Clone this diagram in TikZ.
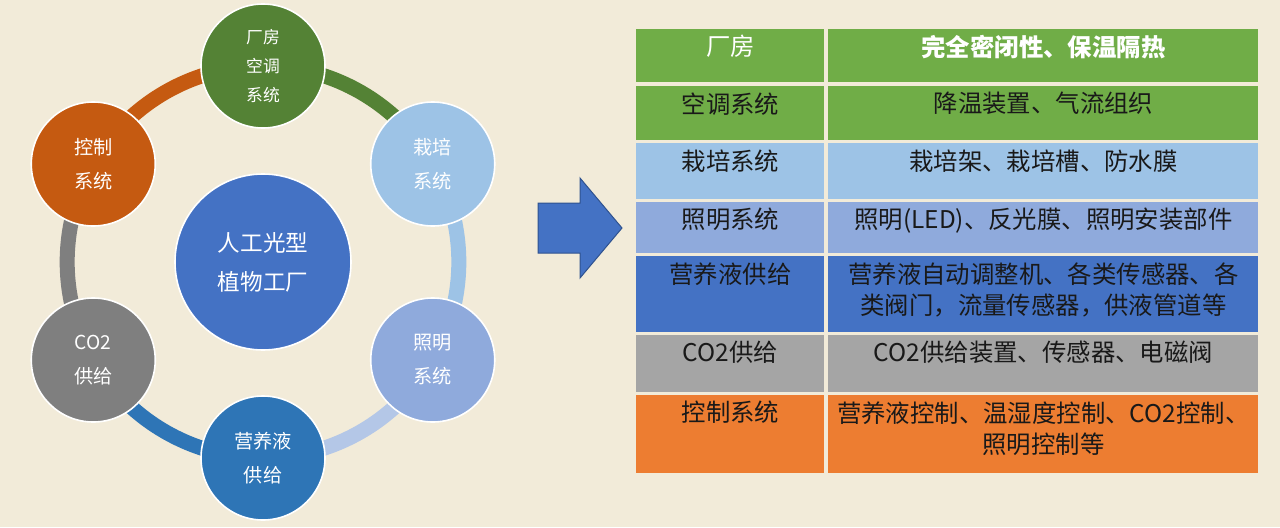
\documentclass[tikz,border=0pt]{standalone}
\usepackage{fontspec}
\usepackage{tikz}
\usetikzlibrary{positioning}
\newfontfamily\cjk{Noto Sans CJK SC}

\begin{document}
\begin{tikzpicture}[x=0.5pt, y=0.5pt,
  sfera/.style={circle, draw=white, line width=0.8pt, inner sep=0pt,
    minimum size=62pt, text=white, align=center,
    font=\cjk\fontsize{9.6}{17}\selectfont},
  anello/.style={line width=7.5pt, bend left=30, looseness=0.91},
  cella/.style={anchor=north west, inner sep=0pt},
  testo/.style={inner sep=0pt, align=center, text=black!90,
    font=\cjk\fontsize{12.2}{15.5}\selectfont}]

% Colori
\definecolor{colSfondo}{HTML}{F2EBD9}
\definecolor{colCentro}{HTML}{4472C4}
\definecolor{colVerde}{HTML}{548235}
\definecolor{colCeleste}{HTML}{9DC3E6}
\definecolor{colLuce}{HTML}{8FAADC}
\definecolor{colLuceChiaro}{HTML}{B4C7E7}
\definecolor{colNutri}{HTML}{2E75B6}
\definecolor{colGrigio}{HTML}{7F7F7F}
\definecolor{colArancio}{HTML}{C55A11}
\definecolor{colVerdeT}{HTML}{70AD47}
\definecolor{colGrigioT}{HTML}{A5A5A5}
\definecolor{colArancioT}{HTML}{ED7D31}
\definecolor{colBordo}{HTML}{2F528F}

% Sfondo
\useasboundingbox (0,0) rectangle (1280,527);
\fill[colSfondo] (0,0) rectangle (1280,527);

% Raggio dell'anello
\def\ranello{196}

% Cerchio centrale
\node[sfera, fill=colCentro, minimum size=88pt,
  font=\cjk\fontsize{11.3}{19.5}\selectfont] (mid) at (263,265) {人工光型\\植物工厂};

% Posizioni dei cerchi esterni
\coordinate (pA) at ([shift={(90:\ranello)}]mid);
\coordinate (pB) at ([shift={(30:\ranello)}]mid);
\coordinate (pC) at ([shift={(-30:\ranello)}]mid);
\coordinate (pD) at ([shift={(-90:\ranello)}]mid);
\coordinate (pE) at ([shift={(-150:\ranello)}]mid);
\coordinate (pF) at ([shift={(150:\ranello)}]mid);

% Anello
\draw[anello, colVerde] (pA) to (pB);
\draw[anello, colCeleste] (pB) to (pC);
\draw[anello, colLuceChiaro] (pC) to (pD);
\draw[anello, colNutri] (pD) to (pE);
\draw[anello, colGrigio] (pE) to (pF);
\draw[anello, colArancio] (pF) to (pA);

% Cerchi esterni
\node[sfera, fill=colVerde, font=\cjk\fontsize{8.4}{14.5}\selectfont] (fab) at (pA) {厂房\\空调\\系统};
\node[sfera, fill=colCeleste] (colt) at (pB) {栽培\\系统};
\node[sfera, fill=colLuce] (illu) at (pC) {照明\\系统};
\node[sfera, fill=colNutri] (nutr) at (pD) {营养液\\供给};
\node[sfera, fill=colGrigio] (coo) at (pE) {CO2\\供给};
\node[sfera, fill=colArancio] (ctrl) at (pF) {控制\\系统};

% Freccia
\fill[colCentro, draw=colBordo, line width=0.5pt]
(538,324) -- (580,324) -- (580,349) -- (622,299) -- (580,249) -- (580,274) -- (538,274) -- cycle;

% Tabella - celle
\node[cella, fill=colVerdeT, minimum width=94pt, minimum height=26.5pt] (c1a) at (636,498) {};
\node[cella, fill=colVerdeT, minimum width=215pt, minimum height=26.5pt] (c1b) at (828,498) {};
\node[cella, fill=colVerdeT, minimum width=94pt, minimum height=27pt] (c2a) at (636,441) {};
\node[cella, fill=colVerdeT, minimum width=215pt, minimum height=27pt] (c2b) at (828,441) {};
\node[cella, fill=colCeleste, minimum width=94pt, minimum height=28pt] (c3a) at (636,384) {};
\node[cella, fill=colCeleste, minimum width=215pt, minimum height=28pt] (c3b) at (828,384) {};
\node[cella, fill=colLuce, minimum width=94pt, minimum height=25.5pt] (c4a) at (636,325) {};
\node[cella, fill=colLuce, minimum width=215pt, minimum height=25.5pt] (c4b) at (828,325) {};
\node[cella, fill=colCentro, minimum width=94pt, minimum height=38pt] (c5a) at (636,271) {};
\node[cella, fill=colCentro, minimum width=215pt, minimum height=38pt] (c5b) at (828,271) {};
\node[cella, fill=colGrigioT, minimum width=94pt, minimum height=28.5pt] (c6a) at (636,192) {};
\node[cella, fill=colGrigioT, minimum width=215pt, minimum height=28.5pt] (c6b) at (828,192) {};
\node[cella, fill=colArancioT, minimum width=94pt, minimum height=39pt] (c7a) at (636,132) {};
\node[cella, fill=colArancioT, minimum width=215pt, minimum height=39pt] (c7b) at (828,132) {};

% Tabella - testi
\node[testo, text=white, below=3pt of c1a.north] (t1a) {厂房};
\node[testo, text=white, font=\cjk\bfseries\fontsize{12.2}{15.5}\selectfont,
  below=3pt of c1b.north] (t1b) {完全密闭性、保温隔热};
\node[testo, below=3pt of c2a.north] (t2a) {空调系统};
\node[testo, below=3pt of c2b.north] (t2b) {降温装置、气流组织};
\node[testo, below=3pt of c3a.north] (t3a) {栽培系统};
\node[testo, below=3pt of c3b.north] (t3b) {栽培架、栽培槽、防水膜};
\node[testo, below=3pt of c4a.north] (t4a) {照明系统};
\node[testo, below=3pt of c4b.north] (t4b) {照明(LED)、反光膜、照明安装部件};
\node[testo, below=3pt of c5a.north] (t5a) {营养液供给};
\node[testo, below=3pt of c5b.north] (t5b) {营养液自动调整机、各类传感器、各\\类阀门，流量传感器，供液管道等};
\node[testo, below=3pt of c6a.north] (t6a) {CO2供给};
\node[testo, below=3pt of c6b.north] (t6b) {CO2供给装置、传感器、电磁阀};
\node[testo, below=3pt of c7a.north] (t7a) {控制系统};
\node[testo, below=3pt of c7b.north] (t7b) {营养液控制、温湿度控制、CO2控制、\\照明控制等};

\end{tikzpicture}
\end{document}
